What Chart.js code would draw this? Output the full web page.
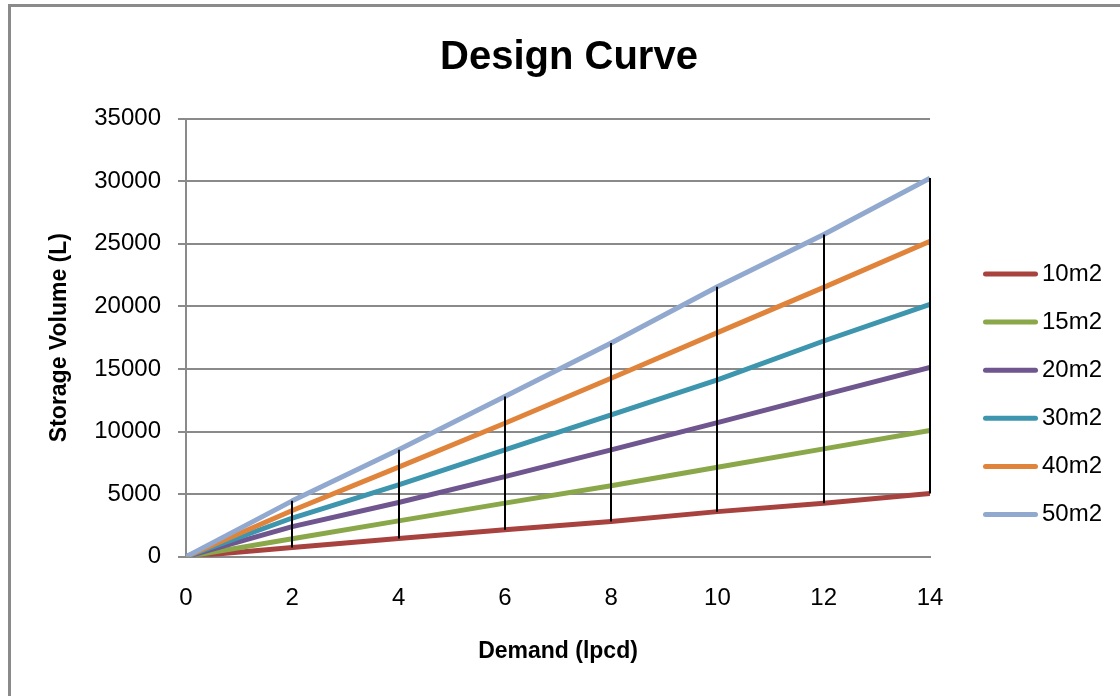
<!DOCTYPE html>
<html>
<head>
<meta charset="utf-8">
<title>Design Curve</title>
<script src="https://cdn.jsdelivr.net/npm/chart.js@4.4.1/dist/chart.umd.min.js"></script>
<style>
  html, body { margin: 0; padding: 0; background: #fff; overflow: hidden; }
  #wrap { position: relative; width: 1120px; height: 696px; overflow: hidden; }
  #frame {
    position: absolute; left: 8px; top: 4px; width: 1300px; height: 900px;
    border-top: 3px solid #8a8a8a; border-left: 3px solid #8a8a8a;
  }
  #c { position: absolute; left: 0; top: 0; }
</style>
</head>
<body>
<div id="wrap">
  <div id="frame"></div>
  <canvas id="c" width="1120" height="696"></canvas>
</div>
<script>
// Demand (lpcd) on the x axis
const demand = [0, 2, 4, 6, 8, 10, 12, 14];

// Storage volume (L) for each catchment size
const seriesNames = ['10m2', '15m2', '20m2', '30m2', '40m2', '50m2'];
const size10 = [0, 740, 1460, 2150, 2820, 3600, 4260, 5040];
const size15 = [0, 1440, 2860, 4280, 5660, 7150, 8610, 10080];
const size20 = [0, 2400, 4330, 6400, 8530, 10710, 12920, 15120];
const size30 = [0, 3090, 5740, 8530, 11320, 14120, 17230, 20160];
const size40 = [0, 3690, 7150, 10660, 14250, 17900, 21510, 25200];
const size50 = [0, 4460, 8540, 12790, 17070, 21560, 25740, 30240];

// Axis tick settings
const xTickStep = 2;
const yTickStep = 5000;
const yMax = 35000;

const seriesValues = [size10, size15, size20, size30, size40, size50];
const seriesColors = ['#A8423F', '#8AA84A', '#70568F', '#3D96AE', '#E0843B', '#92A9CF'];

const FONT = '"Liberation Sans", Arial, Helvetica, sans-serif';
const GRID = '#8a8a8a';

const datasets = seriesValues.map((vals, i) => ({
  label: seriesNames[i],
  data: vals.map((v, j) => ({ x: demand[j], y: v })),
  borderColor: seriesColors[i],
  backgroundColor: seriesColors[i],
  borderWidth: 5,
  borderJoinStyle: 'round',
  pointRadius: 0,
  pointHoverRadius: 0,
  tension: 0,
  fill: false,
  order: seriesValues.length - i   // larger catchments drawn on top
}));

// Vertical high-low lines joining the lowest and highest series at each demand
const highLowLines = {
  id: 'highLowLines',
  afterDatasetsDraw(chart) {
    const { ctx, scales: { x, y } } = chart;
    ctx.save();
    ctx.strokeStyle = '#000';
    ctx.lineWidth = 2;
    demand.forEach((d, i) => {
      const vals = chart.data.datasets.map(ds => ds.data[i].y);
      const hi = Math.max(...vals), lo = Math.min(...vals);
      if (hi === lo) return;
      const px = Math.round(x.getPixelForValue(d));
      ctx.beginPath();
      ctx.moveTo(px, y.getPixelForValue(hi));
      ctx.lineTo(px, y.getPixelForValue(lo));
      ctx.stroke();
    });
    ctx.restore();
  }
};

// Legend to the right of the plot: a short line sample and the series name
const sideLegend = {
  id: 'sideLegend',
  afterDraw(chart) {
    const ctx = chart.ctx;
    const x0 = 985.5, x1 = 1035.5, textX = 1042, top = 274, gap = 48.1;
    ctx.save();
    chart.data.datasets.forEach((ds, i) => {
      const yy = top + i * gap;
      ctx.strokeStyle = ds.borderColor;
      ctx.lineWidth = 5;
      ctx.lineCap = 'round';
      ctx.beginPath();
      ctx.moveTo(x0, yy);
      ctx.lineTo(x1, yy);
      ctx.stroke();
      ctx.fillStyle = '#000';
      ctx.font = '24px ' + FONT;
      ctx.textAlign = 'left';
      ctx.textBaseline = 'middle';
      ctx.fillText(ds.label, textX, yy);
    });
    ctx.restore();
  }
};

new Chart(document.getElementById('c'), {
  type: 'line',
  data: { datasets },
  plugins: [highLowLines, sideLegend],
  options: {
    responsive: false,
    animation: false,
    events: [],
    layout: { padding: { left: 18, right: 0, top: 0, bottom: 0 } },
    plugins: {
      legend: { display: false },
      tooltip: { enabled: false },
      title: {
        display: true,
        text: 'Design Curve',
        color: '#000',
        font: { family: FONT, size: 40, weight: 'bold', lineHeight: 1.2 },
        padding: { top: 34, bottom: 36.5 }
      }
    },
    scales: {
      x: {
        type: 'linear',
        min: 0,
        max: 14,
        afterFit(scale) { scale.height = 139.3; },
        grid: { display: false, drawTicks: false },
        border: { display: true, color: GRID, width: 2 },
        ticks: {
          stepSize: xTickStep,
          padding: 27,
          color: '#000',
          font: { family: FONT, size: 24 },
          callback: v => String(v)
        },
        title: {
          display: true,
          text: 'Demand (lpcd)',
          color: '#000',
          font: { family: FONT, size: 23, weight: 'bold', lineHeight: 1.2 },
          padding: { top: 0, bottom: 30.5 }
        }
      },
      y: {
        min: 0,
        max: yMax,
        afterFit(scale) { scale.width = 168; },
        grid: { color: GRID, lineWidth: 2, drawTicks: true, tickLength: 8, tickColor: GRID },
        border: { display: true, color: GRID, width: 2 },
        ticks: {
          stepSize: yTickStep,
          padding: 17,
          color: '#000',
          font: { family: FONT, size: 24 },
          callback: v => String(v)
        },
        title: {
          display: true,
          text: 'Storage Volume (L)',
          color: '#000',
          font: { family: FONT, size: 23, weight: 'bold', lineHeight: 1.2 },
          padding: { top: 28, bottom: 28 }
        }
      },
      // empty strip on the right that holds the legend
      legendSpace: {
        type: 'linear',
        position: 'right',
        min: 0,
        max: 1,
        afterFit(scale) { scale.width = 190; },
        grid: { display: false, drawTicks: false },
        border: { display: false },
        ticks: { display: false },
        title: { display: false }
      }
    }
  }
});
</script>
</body>
</html>
